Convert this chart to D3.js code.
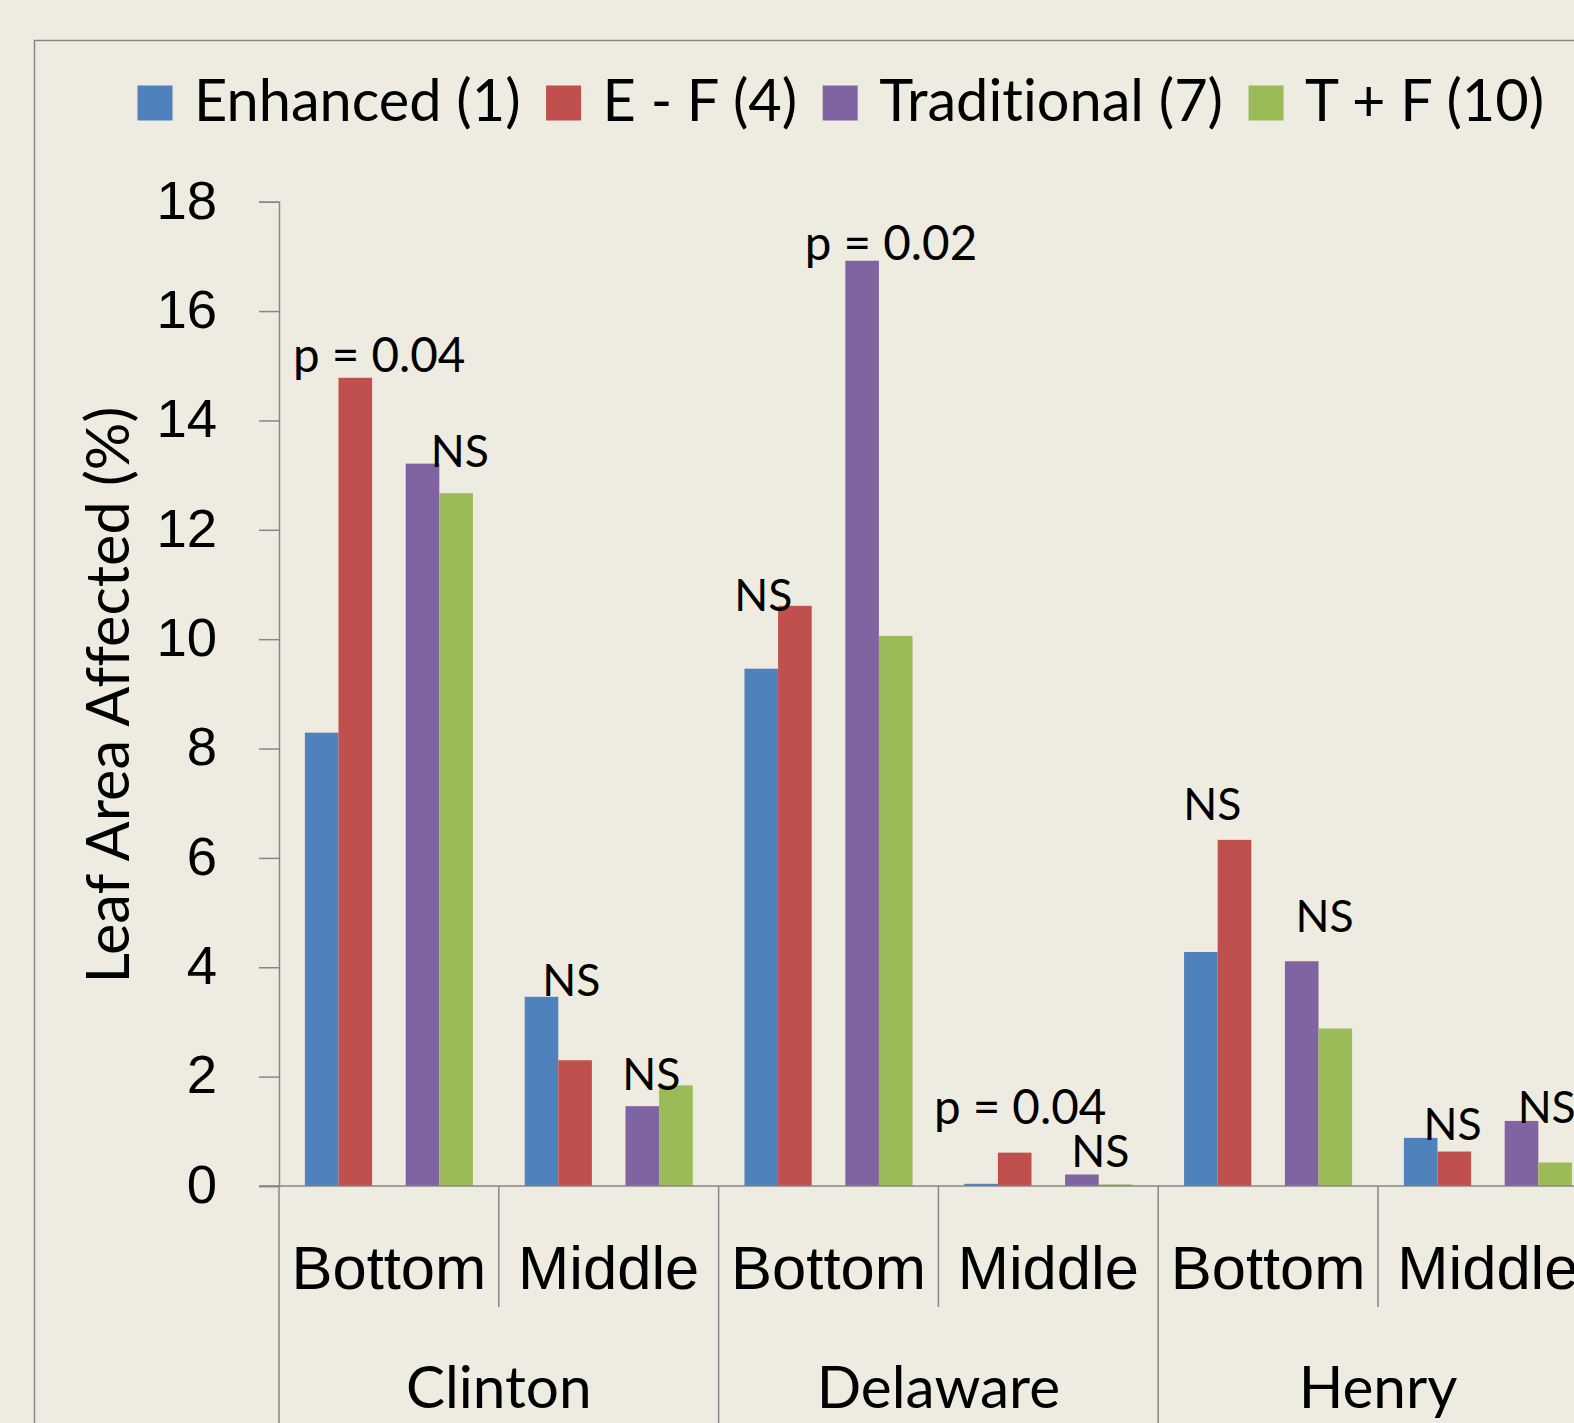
<!DOCTYPE html>
<html>
<head>
<meta charset="utf-8">
<script src="https://cdn.jsdelivr.net/npm/d3@7"></script>
<style>
  html, body { margin: 0; padding: 0; background: #EEECE1; }
  svg { display: block; font-family: Lato, "Open Sans", sans-serif; font-variant-ligatures: none; }
  .axis path, .axis line { stroke: #868686; stroke-width: 1.5; }
  .axis text { fill: #000; }
</style>
</head>
<body>
<div id="chart"></div>
<script>
// categories
var groups = ["Clinton", "Delaware", "Henry"];
var levels = ["Bottom", "Middle"];
var seriesNames = ["Enhanced (1)", "E - F (4)", "Traditional (7)", "T + F (10)"];

// series values, one per group/level, order: Clinton B, Clinton M, Delaware B, Delaware M, Henry B, Henry M
var enhanced    = [8.29, 3.46, 9.46, 0.04, 4.28, 0.88];
var eMinusF     = [14.78, 2.30, 10.61, 0.61, 6.33, 0.63];
var traditional = [13.21, 1.46, 16.92, 0.21, 4.11, 1.19];
var tPlusF      = [12.67, 1.84, 10.06, 0.03, 2.88, 0.43];

var yTicks = [0, 2, 4, 6, 8, 10, 12, 14, 16, 18];

// significance labels: category index, anchor (slot units, value units), text
var noteText  = ["p = 0.04", "NS", "NS", "NS", "NS", "p = 0.02", "p = 0.04", "NS", "NS", "NS", "NS", "NS"];
var noteCat   = [0, 0, 1, 1, 2, 2, 3, 3, 4, 4, 5, 5];
var noteSlot  = [2.21, 4.61, 1.39, 3.77, 0.56, 4.36, 1.66, 4.05, 0.84, 4.18, 1.45, 4.25];
var noteValue = [14.89, 13.15, 3.48, 1.75, 10.52, 16.93, 1.13, 0.34, 6.69, 4.65, 0.85, 1.16];

var colors = ["#4F81BD", "#C0504D", "#8064A2", "#9BBB59"];
var seriesSlot = [0, 1, 3, 4];   // an empty slot sits between the two pairs

var W = 1574, H = 1423;
var svg = d3.select("#chart").append("svg").attr("width", W).attr("height", H);

svg.append("rect").attr("width", W).attr("height", H).attr("fill", "#EEECE1");
svg.append("rect")
    .attr("x", 34.5).attr("y", 40.5).attr("width", W + 100).attr("height", H + 100)
    .attr("fill", "none").attr("stroke", "#868686").attr("stroke-width", 1.5);

var cats = [];
groups.forEach(function (g) {
    levels.forEach(function (l) { cats.push(g + "|" + l); });
});

var bandW = 219.8, left = 279;
var x0 = d3.scaleBand().domain(cats).range([left, left + bandW * cats.length]).padding(0);
var x1 = d3.scaleBand().domain([0, 1, 2, 3, 4]).range([0, x0.bandwidth()])
    .paddingInner(0).paddingOuter(0.77);
var y = d3.scaleLinear().domain([0, 18]).range([1186, 201.7]);

// y axis
var yAxis = svg.append("g").attr("class", "axis")
    .attr("transform", "translate(" + left + ",0)")
    .call(d3.axisLeft(y).tickValues(yTicks).tickSize(20).tickPadding(42));
yAxis.selectAll("text").attr("font-size", 54.5).attr("dy", "0.3em");

svg.append("text")
    .attr("transform", "translate(129,695) rotate(-90)")
    .attr("text-anchor", "middle")
    .attr("font-size", 59.5)
    .text("Leaf Area Affected (%)");

// bars
var all = [enhanced, eMinusF, traditional, tPlusF];
var barG = svg.append("g");
all.forEach(function (vals, s) {
    barG.selectAll(".s" + s)
        .data(vals)
        .enter().append("rect")
        .attr("x", function (d, i) { return x0(cats[i]) + x1(seriesSlot[s]); })
        .attr("y", function (d) { return y(d); })
        .attr("width", x1.bandwidth())
        .attr("height", function (d) { return y(0) - y(d); })
        .attr("fill", colors[s]);
});

// x axis: level labels
var xAxis = svg.append("g").attr("class", "axis")
    .attr("transform", "translate(0," + y(0) + ")")
    .call(d3.axisBottom(x0).tickSize(0).tickPadding(59)
        .tickFormat(function (d) { return d.split("|")[1]; }));
xAxis.select(".domain").attr("d", "M" + (left - 20) + ",0H" + (W + 50));
xAxis.selectAll("text").attr("font-size", 61.5);

// separators
var sep = svg.append("g").attr("stroke", "#868686").attr("stroke-width", 1.5);
cats.forEach(function (c, i) {
    var full = i % levels.length === 0;
    sep.append("line")
        .attr("x1", x0(c)).attr("x2", x0(c))
        .attr("y1", y(0)).attr("y2", full ? H + 10 : 1307);
});

// group labels
svg.append("g").selectAll("text")
    .data(groups)
    .enter().append("text")
    .attr("x", function (g) { return x0(g + "|" + levels[0]) + x0.bandwidth(); })
    .attr("y", 1408)
    .attr("text-anchor", "middle")
    .attr("font-size", 58.5)
    .text(function (g) { return g; });

// significance notes
svg.append("g").selectAll("text")
    .data(noteText)
    .enter().append("text")
    .attr("x", function (d, i) { return x0(cats[noteCat[i]]) + x1(0) + noteSlot[i] * x1.step(); })
    .attr("y", function (d, i) { return y(noteValue[i]); })
    .attr("text-anchor", "middle")
    .attr("font-size", function (d) { return d === "NS" ? 44.5 : 47.5; })
    .text(function (d) { return d; });

// legend
var legend = svg.append("g");
var lx = 137.5;
seriesNames.forEach(function (name, i) {
    legend.append("rect")
        .attr("x", lx).attr("y", 85.5).attr("width", 35).attr("height", 35)
        .attr("fill", colors[i]);
    var t = legend.append("text")
        .attr("x", lx + 56.5).attr("y", 121)
        .attr("font-size", 57.7)
        .text(name);
    lx += 56.5 + t.node().getComputedTextLength() + 25.5;
});
</script>
</body>
</html>
